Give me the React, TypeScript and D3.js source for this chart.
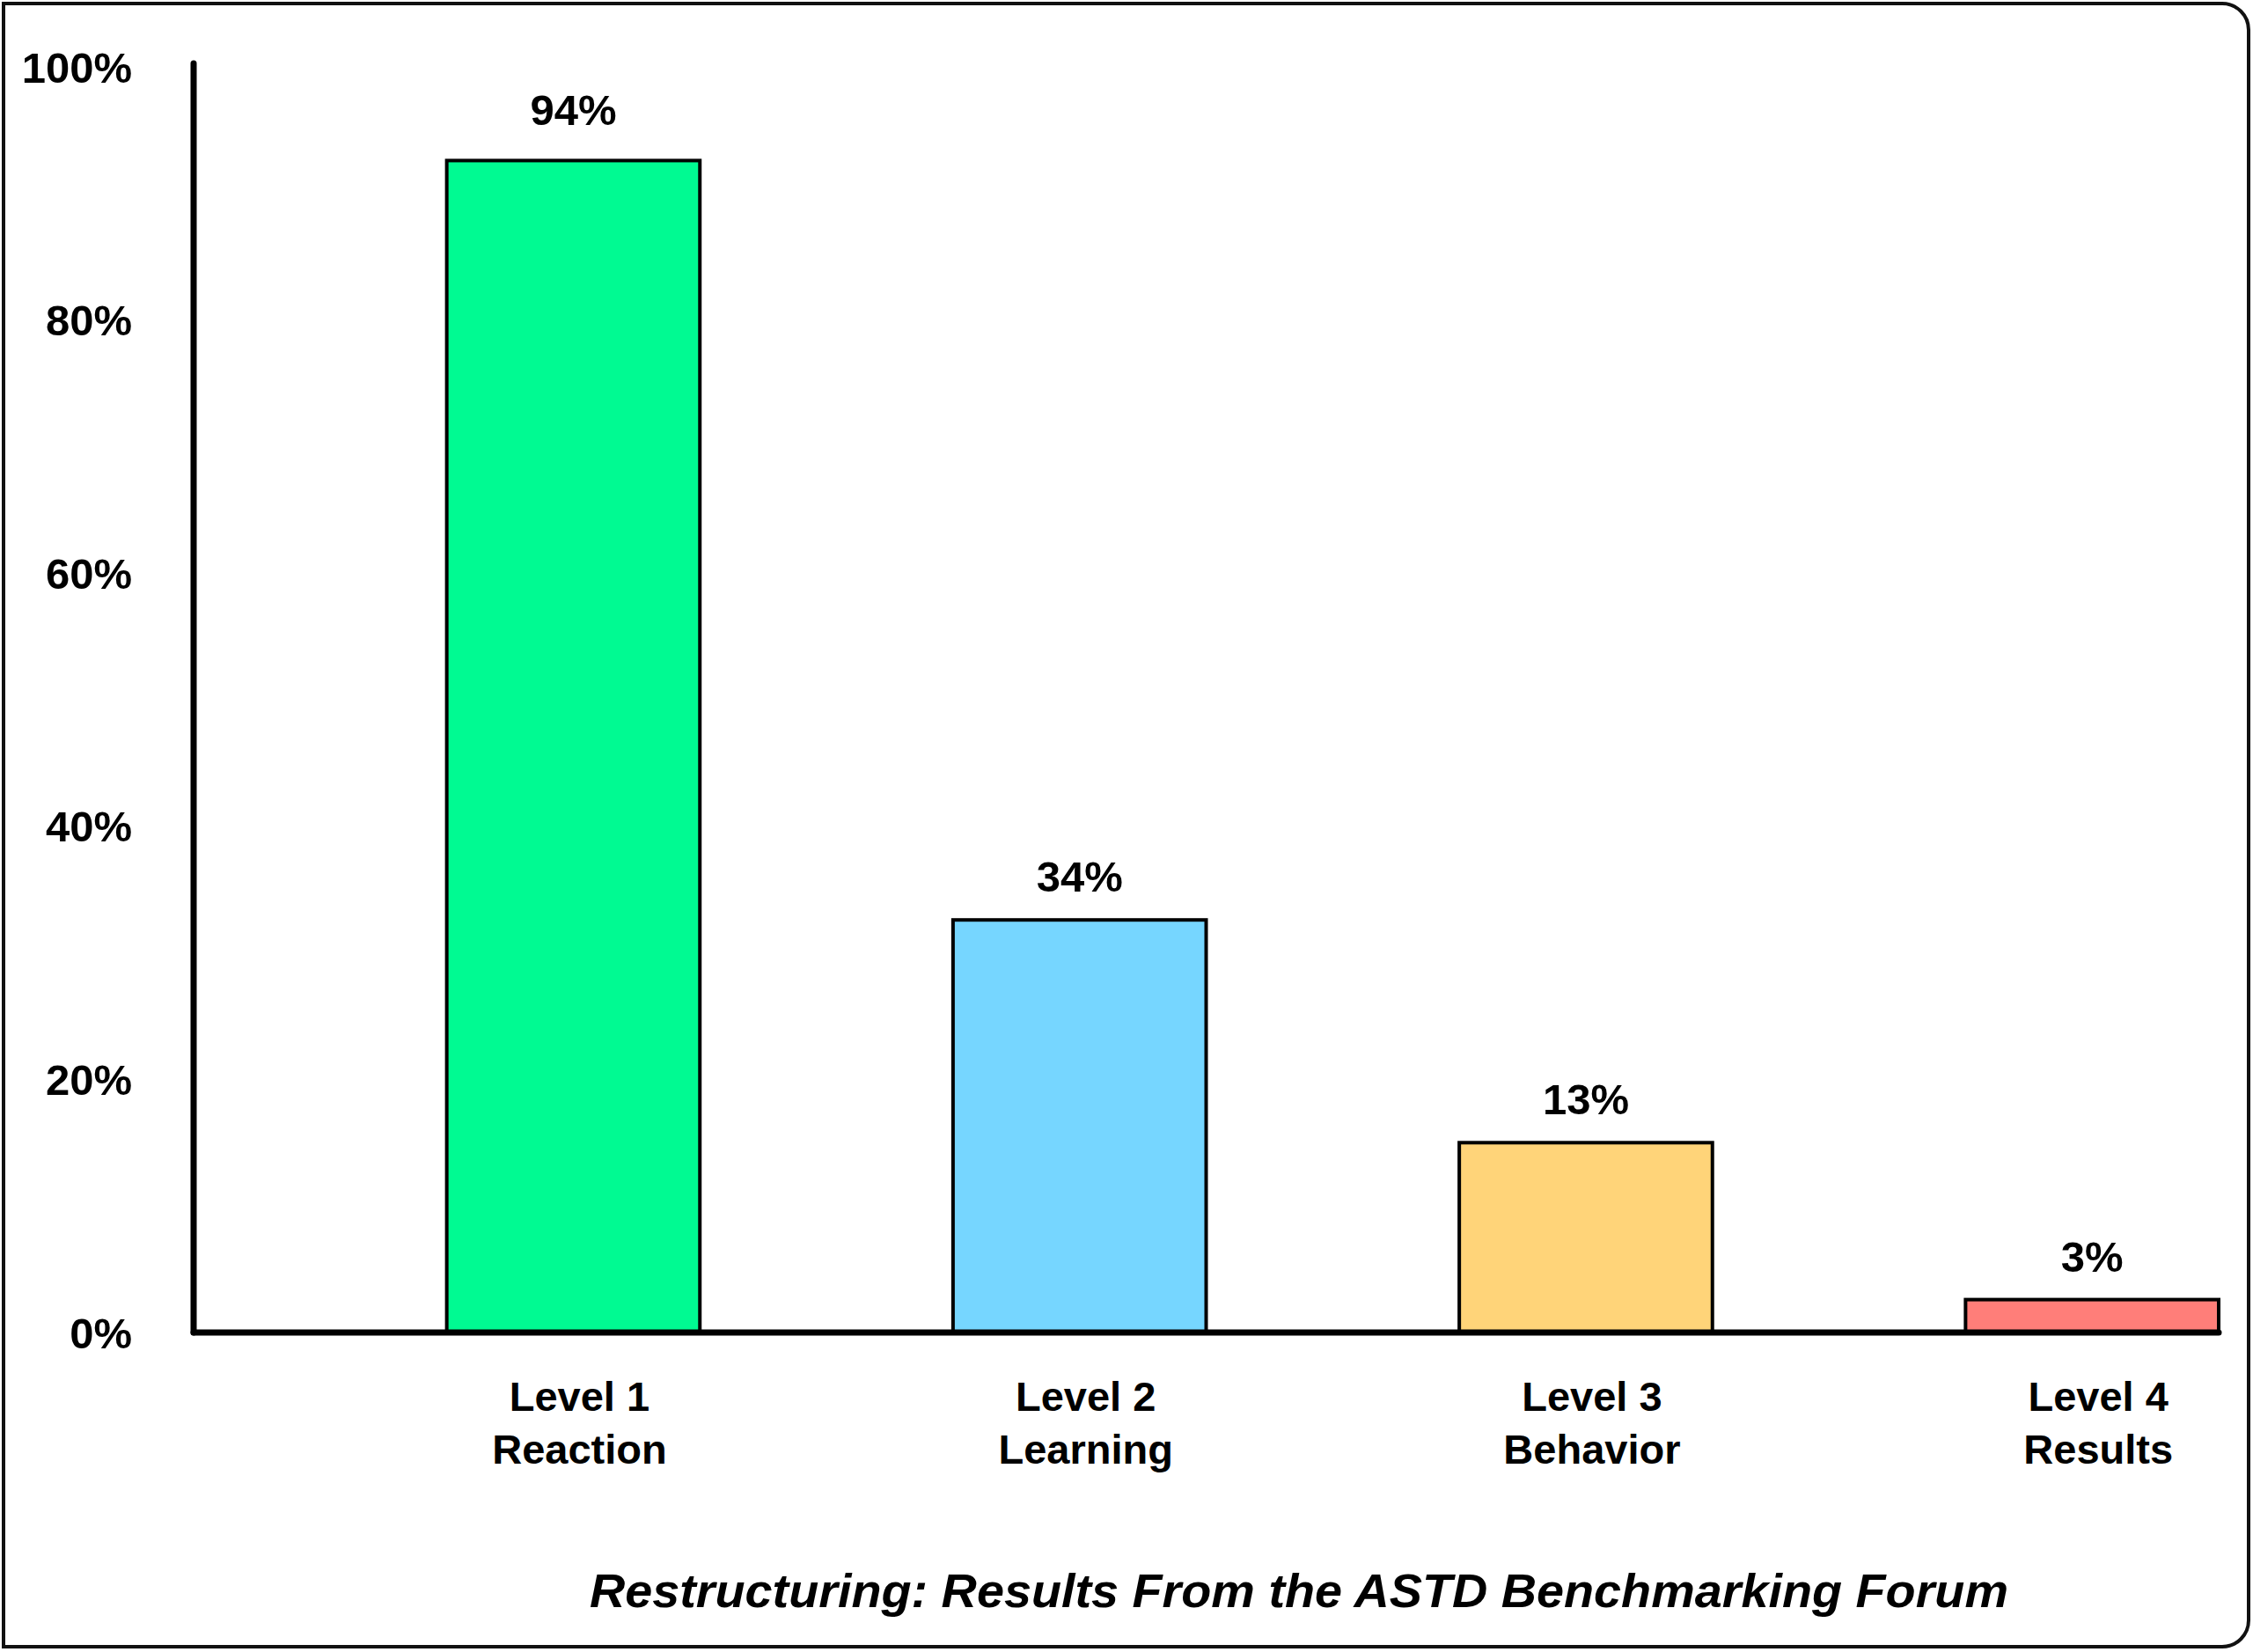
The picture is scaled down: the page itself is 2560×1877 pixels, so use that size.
import React from "react";
import * as d3 from "d3";

const categories = ["Level 1", "Level 2", "Level 3", "Level 4"];
const subLabels = ["Reaction", "Learning", "Behavior", "Results"];
const barValues = [92.6, 32.6, 15.0, 2.6];
const valueLabels = ["94%", "34%", "13%", "3%"];
const barColors = ["#00FA92", "#76D6FF", "#FFD479", "#FF7E79"];
const yTicks = [0, 20, 40, 60, 80, 100];
const title = "Restructuring: Results From the ASTD Benchmarking Forum";

const W = 2560;
const H = 1877;
const FONT = "'Liberation Sans', Arial, Helvetica, sans-serif";

export default function App() {
  const axisX = 220;
  const x = d3
    .scaleBand<string>()
    .domain(categories)
    .range([axisX, 2521])
    .paddingInner(0.5)
    .paddingOuter(0.25)
    .align(1);
  const y = d3.scaleLinear().domain([0, 100]).range([1514, 76]);

  const frame = (() => {
    const l = 4, t = 4, r = 2555, b = 1871, rad = 30;
    const p = d3.path();
    p.moveTo(l, t);
    p.lineTo(r - rad, t);
    p.arcTo(r, t, r, t + rad, rad);
    p.lineTo(r, b - rad);
    p.arcTo(r, b, r - rad, b, rad);
    p.lineTo(l, b);
    p.closePath();
    return p.toString();
  })();

  return (
    <svg
      width={W}
      height={H}
      viewBox={`0 0 ${W} ${H}`}
      style={{ position: "absolute", left: 0, top: 0, background: "#fff" }}
    >
      <rect x={0} y={0} width={W} height={H} fill="#fff" />
      <path d={frame} fill="#fff" stroke="#111" strokeWidth={4} />

      {/* bars */}
      {categories.map((c, i) => (
        <rect
          key={c}
          x={x(c)!}
          y={y(barValues[i])}
          width={x.bandwidth()}
          height={y(0) - y(barValues[i])}
          fill={barColors[i]}
          stroke="#000"
          strokeWidth={4}
        />
      ))}

      {/* axes */}
      <line
        x1={axisX}
        x2={axisX}
        y1={72}
        y2={y(0)}
        stroke="#000"
        strokeWidth={7}
        strokeLinecap="round"
      />
      <line
        x1={axisX}
        x2={x.range()[1]}
        y1={y(0)}
        y2={y(0)}
        stroke="#000"
        strokeWidth={7}
        strokeLinecap="round"
      />

      {/* y tick labels */}
      {yTicks.map((t) => (
        <text
          key={t}
          x={150}
          y={y(t)}
          dy="0.36em"
          textAnchor="end"
          fontFamily={FONT}
          fontWeight="bold"
          fontSize={49}
          fill="#000"
        >
          {t}%
        </text>
      ))}

      {/* value labels */}
      {categories.map((c, i) => (
        <text
          key={"v" + c}
          x={x(c)! + x.bandwidth() / 2}
          y={y(barValues[i]) - (i === 0 ? 40 : 32)}
          textAnchor="middle"
          fontFamily={FONT}
          fontWeight="bold"
          fontSize={49}
          fill="#000"
        >
          {valueLabels[i]}
        </text>
      ))}

      {/* category labels */}
      {categories.map((c, i) => (
        <text
          key={"c" + c}
          x={x(c)! + x.bandwidth() / 2 + 7}
          y={1603}
          textAnchor="middle"
          fontFamily={FONT}
          fontWeight="bold"
          fontSize={47}
          fill="#000"
        >
          <tspan x={x(c)! + x.bandwidth() / 2 + 7}>{c}</tspan>
          <tspan x={x(c)! + x.bandwidth() / 2 + 7} dy={60}>
            {subLabels[i]}
          </tspan>
        </text>
      ))}

      {/* title */}
      <text
        x={1476}
        y={1826}
        textAnchor="middle"
        fontFamily={FONT}
        fontWeight="bold"
        fontStyle="italic"
        fontSize={53}
        textLength={1612}
        lengthAdjust="spacingAndGlyphs"
        fill="#000"
      >
        {title}
      </text>
    </svg>
  );
}
